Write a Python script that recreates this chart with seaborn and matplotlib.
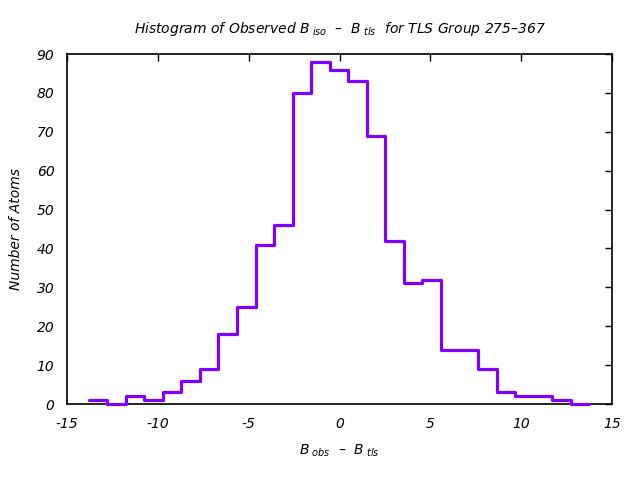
import numpy as np
import pandas as pd
import matplotlib
matplotlib.use("Agg")
import matplotlib.pyplot as plt
import seaborn as sns

# Data (bin edges in B_obs - B_tls units, counts per bin)
bin_start = -13.81
bin_width = 1.021
counts = [1, 0, 2, 1, 3, 6, 9, 18, 25, 41, 46, 80, 88, 86, 83, 69, 42, 31, 32,
          14, 14, 9, 3, 2, 2, 1, 0]
edges = [bin_start + i * bin_width for i in range(len(counts) + 1)]
centers = [(edges[i] + edges[i + 1]) / 2 for i in range(len(counts))]

x_ticks = [-15, -10, -5, 0, 5, 10, 15]
y_ticks = [0, 10, 20, 30, 40, 50, 60, 70, 80, 90]

sns.set_style("white")
plt.rcParams['font.family'] = ['DejaVu Sans']
plt.rcParams['font.style'] = 'italic'
plt.rcParams['axes.unicode_minus'] = False
plt.rcParams['text.color'] = 'black'
plt.rcParams['axes.labelcolor'] = 'black'
plt.rcParams['mathtext.fontset'] = 'custom'
plt.rcParams['mathtext.it'] = 'DejaVu Sans:italic'
plt.rcParams['mathtext.rm'] = 'DejaVu Sans:italic'

df = pd.DataFrame({"x": centers, "n": counts})

fig = plt.figure(figsize=(6.4, 4.8), dpi=100)
ax = fig.add_axes([67 / 640, 1 - 404 / 480, (612 - 67) / 640, (404 - 54) / 480])

sns.histplot(data=df, x="x", weights="n", bins=edges, element="step",
             fill=False, color="#8000ff", linewidth=2.3, ax=ax)
for coll in ax.collections + ax.lines + ax.patches:
    coll.set_clip_on(False)
    coll.set_zorder(3)

ax.set_xlim(-15, 15)
ax.set_ylim(0, 90)
ax.set_xticks(x_ticks)
ax.set_yticks(y_ticks)
ax.tick_params(direction="in", top=True, right=True, length=5, width=1,
               labelsize=10, colors="black")
ax.tick_params(axis="y", pad=9)
ax.tick_params(axis="x", pad=9)
for lab in ax.get_xticklabels() + ax.get_yticklabels():
    lab.set_fontstyle("italic")
for s in ax.spines.values():
    s.set_linewidth(1.2)
    s.set_color("black")
    s.set_zorder(2)

ax.set_xlabel(r"$B_{\ obs}$  –  $B_{\ tls}$", fontsize=10, labelpad=9,
              color="black")
ax.set_ylabel("Number of Atoms", fontsize=10, fontstyle="italic", labelpad=10,
              color="black")
ax.set_title(r"Histogram of Observed $B_{\ iso}$  –  $B_{\ tls}$  for TLS Group 275–367",
             fontsize=10, fontstyle="italic", pad=15, color="black")

fig.savefig("out.png", dpi=100)
